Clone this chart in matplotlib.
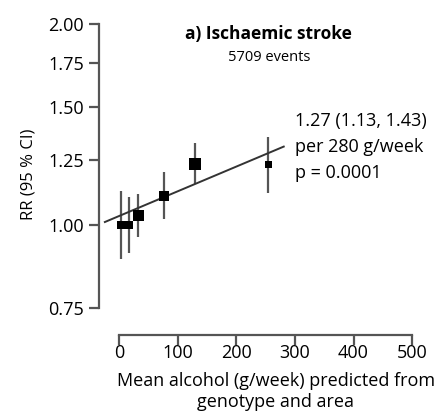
import numpy as np
import matplotlib
matplotlib.use("Agg")
import matplotlib.pyplot as plt
from matplotlib.ticker import FixedLocator, FormatStrFormatter, NullLocator

plt.rcParams['font.family'] = ['Open Sans', 'DejaVu Sans']

# data
alcohol = [3, 17, 33, 76, 130, 255]          # mean g/week
rr = [1.00, 1.00, 1.032, 1.105, 1.234, 1.23]
ci_low = [0.889, 0.907, 0.958, 1.021, 1.151, 1.118]
ci_high = [1.124, 1.103, 1.113, 1.199, 1.325, 1.356]
box_px = [8, 8, 11, 10, 12, 7]                # marker width in pixels (precision)

rr_per_280 = 1.27
intercept = 1.031
fit_range = [-24, 281]

yticks = [0.75, 1.00, 1.25, 1.50, 1.75, 2.00]
xticks = [0, 100, 200, 300, 400, 500]

fig = plt.figure(figsize=(4.48, 4.16), dpi=100)
ax = fig.add_axes([0.221, 0.259, 0.699, 0.683])

grey = '#555555'
rr = np.array(rr)
yerr = [rr - np.array(ci_low), np.array(ci_high) - rr]
ax.errorbar(alcohol, rr, yerr=yerr, fmt='none', ecolor=grey, elinewidth=1.6, capsize=0, zorder=2)

# fitted line (log-linear)
xs = np.array(fit_range)
ys = intercept * np.exp(np.log(rr_per_280) / 280 * xs)
ax.plot(xs, ys, color='#333333', lw=1.4, zorder=3)

sizes = [(p * 72 / 100) ** 2 for p in box_px]
ax.scatter(alcohol, rr, s=sizes, marker='s', color='black', linewidths=0, zorder=4)

ax.set_yscale('log')
ax.set_ylim(0.75, 2.0)
ax.set_xlim(-34, 500)
ax.yaxis.set_major_locator(FixedLocator(yticks))
ax.yaxis.set_major_formatter(FormatStrFormatter('%.2f'))
ax.yaxis.set_minor_locator(NullLocator())
ax.set_xticks(xticks)

ax.spines['top'].set_visible(False)
ax.spines['right'].set_visible(False)
ax.spines['left'].set_bounds(0.75, 2.0)
ax.spines['bottom'].set_bounds(0, 500)
ax.spines['bottom'].set_position(('outward', 19))
for s in ['left', 'bottom']:
    ax.spines[s].set_color(grey)
    ax.spines[s].set_linewidth(1.6)
ax.tick_params(colors=grey, width=1.6, length=7, labelsize=13, labelcolor='black')
ax.tick_params(axis='y', pad=4)
ax.tick_params(axis='x', pad=0)

ax.set_ylabel('RR (95 % CI)', fontsize=12)
ax.yaxis.set_label_coords(-0.2, 0.47)
ax.set_xlabel('Mean alcohol (g/week) predicted from\ngenotype and area', fontsize=13, linespacing=1.2)
ax.xaxis.set_label_coords(0.564, -0.225)

ax.text(0.542, 0.967, 'a) Ischaemic stroke', transform=ax.transAxes, ha='center', va='center',
        fontsize=12.5, fontweight='bold')
ax.text(0.542, 0.882, '5709 events', transform=ax.transAxes, ha='center', va='center', fontsize=10.5)

ax.text(0.626, 0.567, '1.27 (1.13, 1.43)\nper 280 g/week\np = 0.0001', transform=ax.transAxes,
        ha='left', va='center', fontsize=13, linespacing=1.55)

fig.savefig('out.png', dpi=100)
